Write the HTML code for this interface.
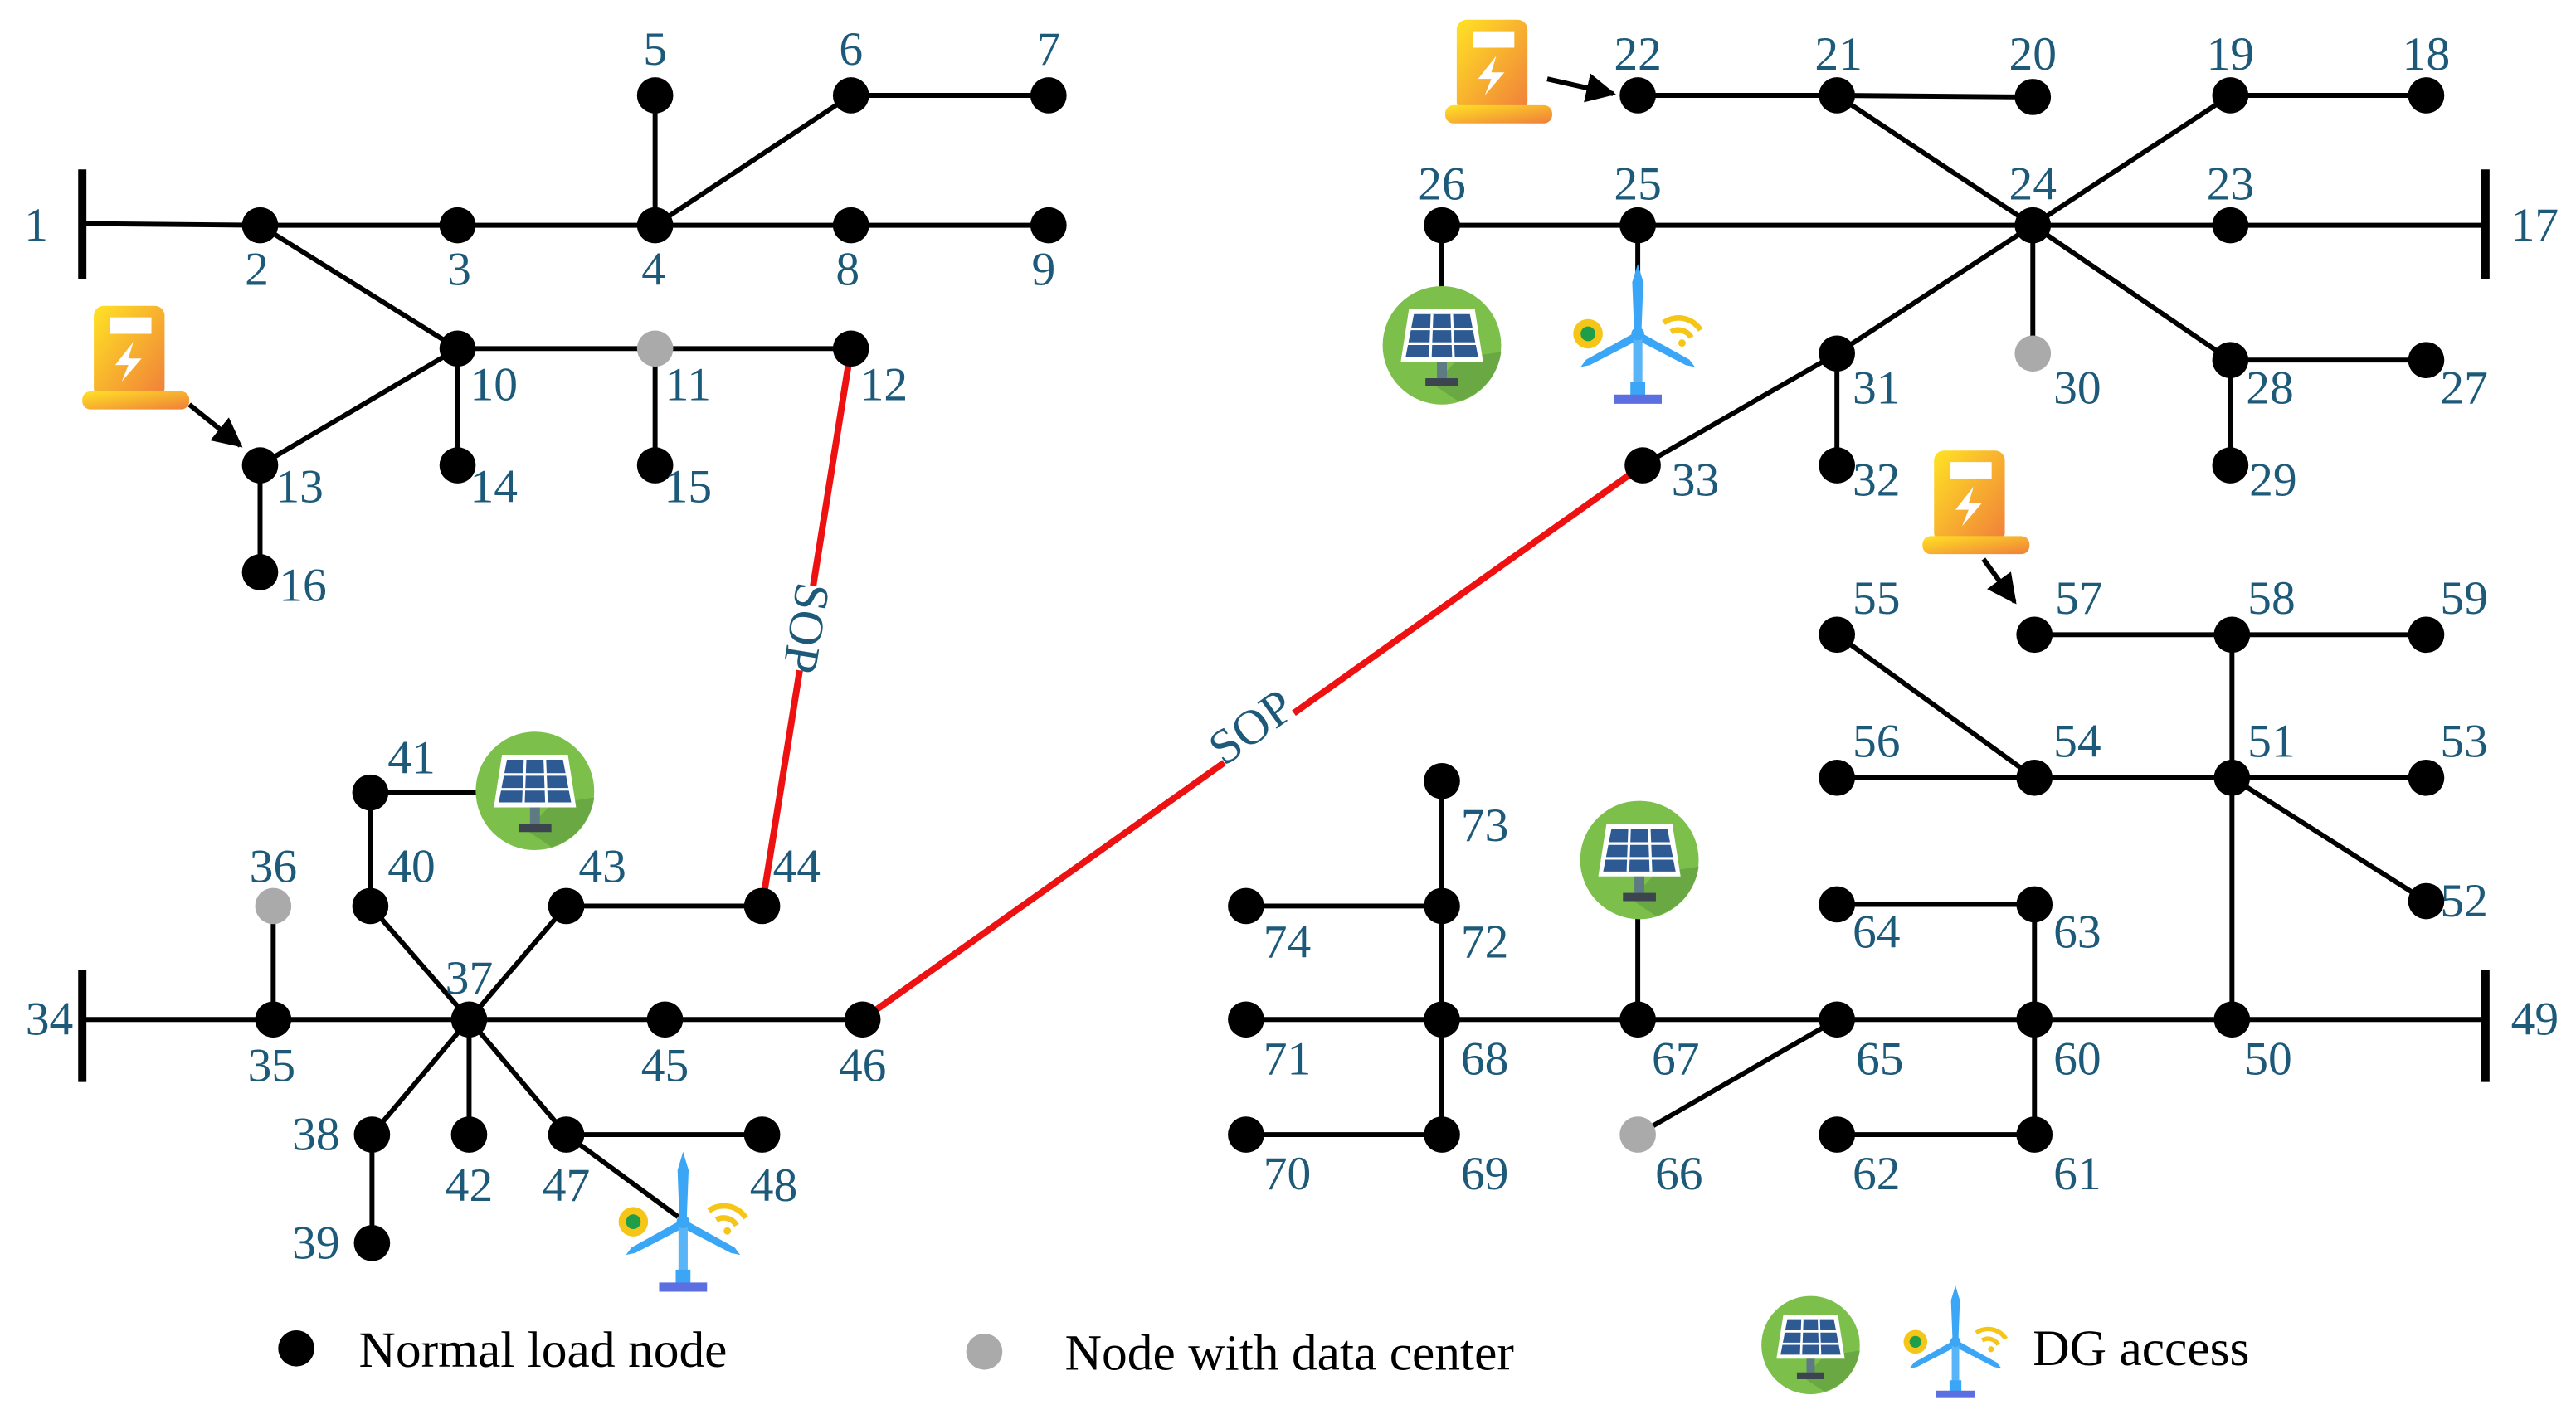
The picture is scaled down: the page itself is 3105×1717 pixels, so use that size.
<!DOCTYPE html>
<html><head><meta charset="utf-8"><style>
html,body{margin:0;padding:0;background:#fff;}
svg{display:block;}
</style></head><body>
<svg width="3105" height="1717" viewBox="0 0 1565 866" preserveAspectRatio="none" xmlns="http://www.w3.org/2000/svg">
<defs>
<linearGradient id="cg" x1="0" y1="0" x2="1" y2="1"><stop offset="0" stop-color="#ffe324"/><stop offset="1" stop-color="#f07e3a"/></linearGradient>
<g id="chg">
<rect x="-25" y="-30" width="43" height="56" rx="6" fill="url(#cg)"/>
<rect x="-32" y="22" width="65" height="11" rx="5" fill="url(#cg)"/>
<rect x="-15" y="-23" width="25" height="10" fill="#fff"/>
<path d="M-1,-8 L-12,6 L-4,6 L-8,16 L4,2 L-4,2 Z" fill="#fff"/>
</g>
<g id="pv">
<circle r="36" fill="#7cc04b"/>
<path d="M10,8 L36,4 A36,36 0 0 1 10,34 L-5,24 Z" fill="#6aa843"/>
<polygon points="-20,-22 20,-22 25,10 -25,10" fill="#fff"/>
<polygon points="-17,-19 17,-19 22,7 -22,7" fill="#2e5a94"/>
<g stroke="#fff" stroke-width="1.6"><line x1="-6" y1="-19" x2="-7" y2="7"/><line x1="6" y1="-19" x2="7" y2="7"/><line x1="-19" y1="-10" x2="19" y2="-10"/><line x1="-21" y1="-1" x2="21" y2="-1"/></g>
<rect x="-3" y="10" width="6" height="10" fill="#5d7a85"/>
<rect x="-10" y="20" width="20" height="5" fill="#3c4450"/>
</g>
<g id="wt0">
<g fill="#3aa6f5">
<path d="M-2,-2 L-3,-28 L0,-38 L3,-28 L2,-2Z"/>
<path d="M-1,-1 L-28,14 L-31,18 L-26,17 L1,3Z"/>
<path d="M1,-1 L28,14 L31,18 L26,17 L-1,3Z"/>
<rect x="-2.5" y="0" width="5" height="32" fill="#5ab4f8"/>
<rect x="-4" y="26" width="8" height="8"/>
</g>
<rect x="-13" y="33" width="26" height="5" fill="#5b6fe0"/>
<circle cx="0" cy="0" r="3.5" fill="#3aa6f5"/>
<circle cx="-27" cy="0" r="8" fill="#f5c518"/><circle cx="-27" cy="0" r="4" fill="#1e9e48"/>
<path d="M14,-6 A14,14 0 0 1 34,-2" stroke="#f5c518" stroke-width="3" fill="none"/>
<path d="M18,-1 A8,8 0 0 1 29,2" stroke="#f5c518" stroke-width="3" fill="none"/>
<circle cx="24" cy="5" r="2" fill="#f5c518"/>
</g>
<g id="wt"><use href="#wt0" transform="scale(1.12)"/></g>
<marker id="ar" viewBox="0 0 10 10" refX="9" refY="5" markerWidth="6" markerHeight="6" orient="auto"><path d="M0,0 L10,5 L0,10 Z" fill="#000"/></marker>
</defs>

<g stroke="#000" stroke-width="3" fill="none">
<line x1="50" y1="103" x2="50" y2="170" stroke-width="5"/>
<line x1="1510" y1="103" x2="1510" y2="170" stroke-width="5"/>
<line x1="50" y1="590" x2="50" y2="658" stroke-width="5"/>
<line x1="1510" y1="590" x2="1510" y2="658" stroke-width="5"/>
<polyline points="50,136 158,137 637,137"/>
<line x1="398" y1="58" x2="398" y2="137"/>
<polyline points="398,137 517,58 637,58"/>
<line x1="158" y1="137" x2="278" y2="212"/>
<line x1="278" y1="212" x2="517" y2="212"/>
<line x1="278" y1="212" x2="158" y2="283"/>
<line x1="158" y1="283" x2="158" y2="348"/>
<line x1="278" y1="212" x2="278" y2="283"/>
<line x1="398" y1="212" x2="398" y2="283"/>
<polyline points="995,58 1116,58 1235,59"/>
<line x1="1116" y1="58" x2="1235" y2="137"/>
<polyline points="1235,137 1355,58 1474,58"/>
<line x1="876" y1="137" x2="1510" y2="137"/>
<polyline points="1235,137 1355,219 1474,219"/>
<line x1="1355" y1="219" x2="1355" y2="283"/>
<line x1="1235" y1="137" x2="1235" y2="215"/>
<polyline points="1235,137 1116,215 998,283"/>
<line x1="1116" y1="215" x2="1116" y2="283"/>
<line x1="876" y1="137" x2="876" y2="176"/>
<line x1="995" y1="137" x2="995" y2="190"/>
<polyline points="50,620 166,620 524,620"/>
<line x1="166" y1="620" x2="166" y2="551"/>
<polyline points="285,620 225,551 225,482 290,482"/>
<polyline points="285,620 344,551 463,551"/>
<polyline points="285,620 226,690 226,756"/>
<line x1="285" y1="620" x2="285" y2="690"/>
<polyline points="285,620 344,690 463,690"/>
<line x1="344" y1="690" x2="412" y2="740"/>
<line x1="757" y1="620" x2="1510" y2="620"/>
<polyline points="1356,620 1356,386"/>
<line x1="1236" y1="386" x2="1474" y2="386"/>
<line x1="1116" y1="473" x2="1474" y2="473"/>
<line x1="1116" y1="386" x2="1236" y2="473"/>
<line x1="1356" y1="473" x2="1474" y2="548"/>
<polyline points="1236,620 1236,550 1116,550"/>
<polyline points="1236,620 1236,690 1116,690"/>
<line x1="1116" y1="620" x2="995" y2="690"/>
<line x1="995" y1="620" x2="995" y2="555"/>
<polyline points="876,475 876,690 757,690"/>
<line x1="876" y1="551" x2="757" y2="551"/>
<line x1="115" y1="246" x2="146" y2="271" marker-end="url(#ar)"/>
<line x1="940" y1="48" x2="980" y2="57" marker-end="url(#ar)"/>
<line x1="1205" y1="340" x2="1224" y2="366" marker-end="url(#ar)"/>
</g>
<g stroke="#ee1111" stroke-width="4">
<line x1="517" y1="212" x2="463" y2="551"/>
<line x1="998" y1="283" x2="524" y2="620"/>
</g>
<rect x="-26" y="-11" width="52" height="22" fill="#fff" transform="translate(760,442) rotate(-36)"/>
<text font-family="Liberation Serif, serif" font-size="30" fill="#1d5a7a" text-anchor="middle" dominant-baseline="central" transform="translate(760,442) rotate(-36)">SOP</text>
<rect x="-26" y="-11" width="52" height="22" fill="#fff" transform="translate(490,382) rotate(99)"/>
<text font-family="Liberation Serif, serif" font-size="30" fill="#1d5a7a" text-anchor="middle" dominant-baseline="central" transform="translate(490,382) rotate(99)">SOP</text>

<g fill="#000">
<circle cx="158" cy="137" r="11"/><circle cx="278" cy="137" r="11"/><circle cx="398" cy="137" r="11"/>
<circle cx="398" cy="58" r="11"/><circle cx="517" cy="58" r="11"/><circle cx="637" cy="58" r="11"/>
<circle cx="517" cy="137" r="11"/><circle cx="637" cy="137" r="11"/><circle cx="278" cy="212" r="11"/>
<circle cx="517" cy="212" r="11"/><circle cx="158" cy="283" r="11"/><circle cx="278" cy="283" r="11"/>
<circle cx="398" cy="283" r="11"/><circle cx="158" cy="348" r="11"/>
<circle cx="1474" cy="58" r="11"/><circle cx="1355" cy="58" r="11"/><circle cx="1235" cy="59" r="11"/>
<circle cx="1116" cy="58" r="11"/><circle cx="995" cy="58" r="11"/><circle cx="1355" cy="137" r="11"/>
<circle cx="1235" cy="137" r="11"/><circle cx="995" cy="137" r="11"/><circle cx="876" cy="137" r="11"/>
<circle cx="1474" cy="219" r="11"/><circle cx="1355" cy="219" r="11"/><circle cx="1355" cy="283" r="11"/>
<circle cx="1116" cy="215" r="11"/><circle cx="1116" cy="283" r="11"/><circle cx="998" cy="283" r="11"/>
<circle cx="166" cy="620" r="11"/><circle cx="285" cy="620" r="11"/><circle cx="226" cy="690" r="11"/>
<circle cx="226" cy="756" r="11"/><circle cx="225" cy="551" r="11"/><circle cx="225" cy="482" r="11"/>
<circle cx="285" cy="690" r="11"/><circle cx="344" cy="551" r="11"/><circle cx="463" cy="551" r="11"/>
<circle cx="404" cy="620" r="11"/><circle cx="524" cy="620" r="11"/><circle cx="344" cy="690" r="11"/>
<circle cx="463" cy="690" r="11"/>
<circle cx="1356" cy="620" r="11"/><circle cx="1356" cy="473" r="11"/><circle cx="1474" cy="548" r="11"/>
<circle cx="1474" cy="473" r="11"/><circle cx="1236" cy="473" r="11"/><circle cx="1116" cy="386" r="11"/>
<circle cx="1116" cy="473" r="11"/><circle cx="1236" cy="386" r="11"/><circle cx="1356" cy="386" r="11"/>
<circle cx="1474" cy="386" r="11"/><circle cx="1236" cy="620" r="11"/><circle cx="1236" cy="690" r="11"/>
<circle cx="1116" cy="690" r="11"/><circle cx="1236" cy="550" r="11"/><circle cx="1116" cy="550" r="11"/>
<circle cx="1116" cy="620" r="11"/><circle cx="995" cy="620" r="11"/><circle cx="876" cy="620" r="11"/>
<circle cx="876" cy="690" r="11"/><circle cx="757" cy="690" r="11"/><circle cx="757" cy="620" r="11"/>
<circle cx="876" cy="551" r="11"/><circle cx="876" cy="475" r="11"/><circle cx="757" cy="551" r="11"/>
<circle cx="180" cy="820" r="11"/>
</g>
<g fill="#aaa">
<circle cx="398" cy="212" r="11"/><circle cx="1235" cy="215" r="11"/><circle cx="166" cy="551" r="11"/>
<circle cx="995" cy="690" r="11"/><circle cx="598" cy="822" r="11"/>
</g>

<use href="#chg" x="82" y="216"/>
<use href="#chg" x="910" y="42"/>
<use href="#chg" x="1200" y="304"/>
<use href="#pv" x="876" y="210"/>
<use href="#pv" x="325" y="481"/>
<use href="#pv" x="996" y="523"/>
<use href="#pv" transform="translate(1100,818) scale(0.83)"/>
<use href="#wt" x="995" y="203"/>
<use href="#wt" x="415" y="743"/>
<use href="#wt0" transform="translate(1188,816) scale(0.9)"/>

<g font-family="Liberation Serif, serif" font-size="29" fill="#1d5a7a" text-anchor="middle" dominant-baseline="central">
<text x="22" y="137">1</text><text x="156" y="164">2</text><text x="279" y="164">3</text><text x="397" y="164">4</text>
<text x="398" y="30">5</text><text x="517" y="30">6</text><text x="637" y="30">7</text>
<text x="515" y="164">8</text><text x="634" y="164">9</text><text x="300" y="234">10</text>
<text x="418" y="234">11</text><text x="537" y="234">12</text><text x="182" y="296">13</text>
<text x="300" y="296">14</text><text x="418" y="296">15</text><text x="184" y="356">16</text>
<text x="1540" y="137">17</text><text x="1474" y="33">18</text><text x="1355" y="33">19</text>
<text x="1235" y="33">20</text><text x="1117" y="33">21</text><text x="995" y="33">22</text>
<text x="1355" y="112">23</text><text x="1235" y="112">24</text><text x="995" y="112">25</text>
<text x="876" y="112">26</text><text x="1497" y="236">27</text><text x="1379" y="236">28</text>
<text x="1381" y="292">29</text><text x="1262" y="236">30</text><text x="1140" y="236">31</text>
<text x="1140" y="292">32</text><text x="1030" y="292">33</text>
<text x="30" y="620">34</text><text x="165" y="648">35</text><text x="166" y="527">36</text>
<text x="285" y="595">37</text><text x="192" y="690">38</text><text x="192" y="756">39</text>
<text x="250" y="527">40</text><text x="250" y="461">41</text><text x="285" y="721">42</text>
<text x="366" y="527">43</text><text x="484" y="527">44</text><text x="404" y="648">45</text>
<text x="524" y="648">46</text><text x="344" y="721">47</text><text x="470" y="721">48</text>
<text x="1540" y="620">49</text><text x="1378" y="644">50</text><text x="1380" y="451">51</text>
<text x="1497" y="548">52</text><text x="1497" y="451">53</text><text x="1262" y="451">54</text>
<text x="1140" y="364">55</text><text x="1140" y="451">56</text><text x="1263" y="364">57</text>
<text x="1380" y="364">58</text><text x="1497" y="364">59</text><text x="1262" y="644">60</text>
<text x="1262" y="714">61</text><text x="1140" y="714">62</text><text x="1262" y="567">63</text>
<text x="1140" y="567">64</text><text x="1142" y="644">65</text><text x="1020" y="714">66</text>
<text x="1018" y="644">67</text><text x="902" y="644">68</text><text x="902" y="714">69</text>
<text x="782" y="714">70</text><text x="782" y="644">71</text><text x="902" y="573">72</text>
<text x="902" y="502">73</text><text x="782" y="573">74</text>
</g>
<g font-family="Liberation Serif, serif" font-size="31" fill="#000" dominant-baseline="central">
<text x="218" y="821">Normal load node</text>
<text x="647" y="823">Node with data center</text>
<text x="1235" y="820">DG access</text>
</g>
</svg>
</body></html>
